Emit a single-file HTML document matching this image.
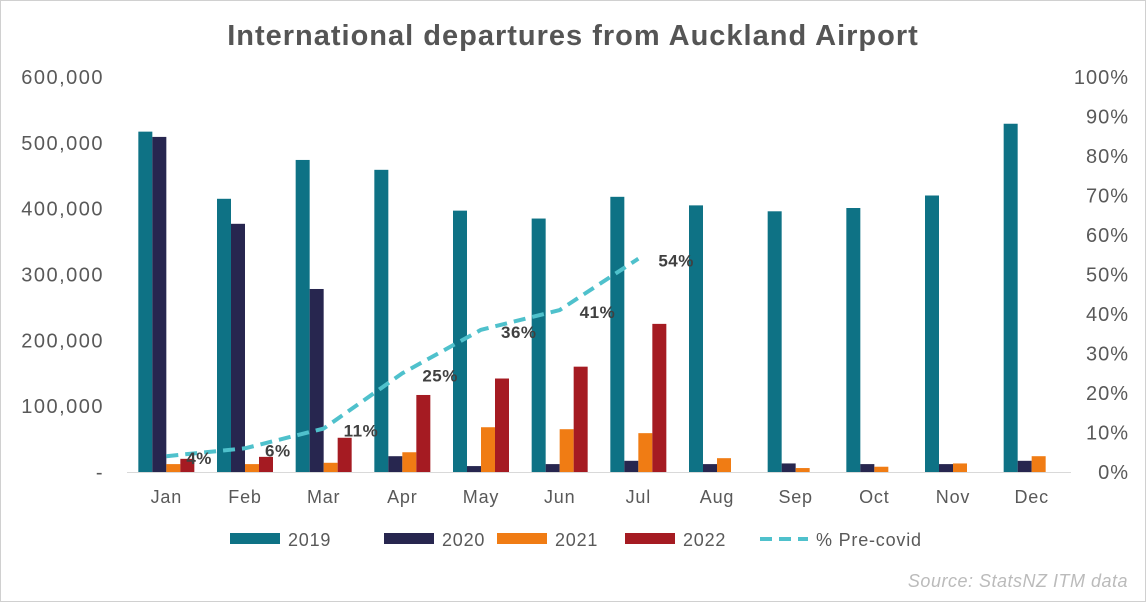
<!DOCTYPE html>
<html><head><meta charset="utf-8">
<style>
html,body{margin:0;padding:0;background:#fff;}
body{width:1146px;height:602px;overflow:hidden;font-family:"Liberation Sans",sans-serif;}
</style></head>
<body>
<svg id="chart" width="1146" height="602" xmlns="http://www.w3.org/2000/svg" font-family="Liberation Sans, sans-serif">
<rect x="0.5" y="0.5" width="1145" height="601" fill="#fff" stroke="#d0d0d0"/>
<text x="573" y="45" text-anchor="middle" font-size="29" font-weight="bold" letter-spacing="1" fill="#555">International departures from Auckland Airport</text>
<g id="plot"></g>
<text x="1128" y="587" text-anchor="end" font-size="18" font-style="italic" letter-spacing="0.5" fill="#bbb">Source: StatsNZ ITM data</text>
</svg>
<script>
const categories=["Jan","Feb","Mar","Apr","May","Jun","Jul","Aug","Sep","Oct","Nov","Dec"];
const s2019=[517000,415000,474000,459000,397000,385000,418000,405000,396000,401000,420000,529000];
const s2020=[509000,377000,278000,24000,9000,12000,17000,12000,13000,12000,12000,17000];
const s2021=[12000,12000,14000,30000,68000,65000,59000,21000,6000,8000,13000,24000];
const s2022=[20000,23000,52000,117000,142000,160000,225000];
const pct=[4,6,11,25,36,41,54];
const leftTicks=[0,100000,200000,300000,400000,500000,600000];
const leftTickLabels=["-","100,000","200,000","300,000","400,000","500,000","600,000"];
const rightTicks=[0,10,20,30,40,50,60,70,80,90,100];
const seriesNames=["2019","2020","2021","2022"];
const colors=["#0e7285","#27264f","#f07c14","#a51b22"];
const lineColor="#4fc1cc";

const NS="http://www.w3.org/2000/svg";
const g=document.getElementById("plot");
const x0=127,x1=1071,yBase=472,yTop=77;
const band=(x1-x0)/categories.length;
const xc=i=>x0+band*(i+0.5);
const yL=v=>yBase-(v/600000)*(yBase-yTop);
const yR=v=>yBase-(v/100)*(yBase-yTop);
function mk(tag,attrs,parent){const e=document.createElementNS(NS,tag);for(const k in attrs)e.setAttribute(k,attrs[k]);(parent||g).appendChild(e);return e;}

leftTicks.forEach((t,i)=>{
  const e=mk("text",{x:104,y:yL(t)+7,"text-anchor":"end","font-size":"20","letter-spacing":"1.5",fill:"#595959"});
  
  
  e.textContent=leftTickLabels[i];
});
rightTicks.forEach(t=>{
  const e=mk("text",{x:1129,y:yR(t)+7,"text-anchor":"end","font-size":"20","letter-spacing":"1",fill:"#595959"});
  
  
  e.textContent=t+"%";
});
const ax=mk("line",{x1:x0,x2:x1,y1:yBase+0.5,y2:yBase+0.5,stroke:"#d9d9d9","stroke-width":1});



categories.forEach((c,i)=>{
  const e=mk("text",{x:xc(i),y:503,"text-anchor":"middle","font-size":"18","letter-spacing":"0.8",fill:"#595959"});
  
  
  e.textContent=c;
});
const all=[s2019,s2020,s2021,s2022];
const bw=14;
all.forEach((s,si)=>{
  s.forEach((v,i)=>{
    const x=xc(i)-2*bw+si*bw;
    const r=mk("rect",{x:x,y:yL(v),width:bw,height:yBase-yL(v),fill:colors[si]});
    
    
  });
});
const pts=pct.map((p,i)=>[xc(i),yR(p)]);
const pl=mk("polyline",{points:pts.map(p=>p.join(",")).join(" "),fill:"none",stroke:lineColor,"stroke-width":4,"stroke-dasharray":"12,7","stroke-linejoin":"round"});


pct.forEach((p,i)=>{
  const e=mk("text",{x:pts[i][0]+20,y:pts[i][1]+8,"font-size":"17","font-weight":"bold","letter-spacing":"0.5",fill:"#404040"});
  
  
  e.textContent=p+"%";
});
// legend
const lx=[230,384,497,625];
seriesNames.forEach((n,i)=>{
  const r=mk("rect",{x:lx[i],y:533,width:50,height:11,fill:colors[i]});
  
  
  const t=mk("text",{x:lx[i]+58,y:546,"font-size":"18","letter-spacing":"0.8",fill:"#595959"});
  
  
  t.textContent=n;
});
const ll=mk("line",{x1:760,x2:808,y1:539,y2:539,stroke:lineColor,"stroke-width":4,"stroke-dasharray":"12,7"});


const lt=mk("text",{x:816,y:546,"font-size":"18","letter-spacing":"0.8",fill:"#595959"});


lt.textContent="% Pre-covid";
</script>
</body></html>
